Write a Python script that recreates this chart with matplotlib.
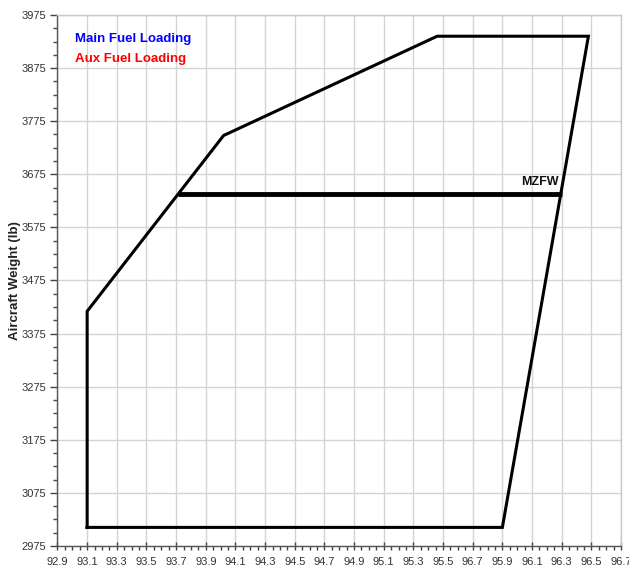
import matplotlib
matplotlib.use("Agg")
import matplotlib.pyplot as plt
from matplotlib.ticker import MultipleLocator, FixedLocator
import numpy as np
from matplotlib import font_manager

# ---- data ----
envelope_arm = [93.1, 93.1, 94.02, 95.46, 96.48, 95.9, 93.1]
envelope_weight = [3010, 3417, 3748, 3935, 3935, 3010, 3010]
mzfw_arm = [93.71, 96.3]
mzfw_weight = [3638, 3638]
x_ticks = [92.9, 93.1, 93.3, 93.5, 93.7, 93.9, 94.1, 94.3, 94.5, 94.7, 94.9,
           95.1, 95.3, 95.5, 95.7, 95.9, 96.1, 96.3, 96.5, 96.7]
x_tick_labels = ["92.9", "93.1", "93.3", "93.5", "93.7", "93.9", "94.1", "94.3",
                 "94.5", "94.7", "94.9", "95.1", "95.3", "95.5", "96.7", "95.9",
                 "96.1", "96.3", "96.5", "96.7"]
y_ticks = [2975, 3075, 3175, 3275, 3375, 3475, 3575, 3675, 3775, 3875, 3975]

names = {f.name for f in font_manager.fontManager.ttflist}
narrow = "Liberation Sans Narrow" if "Liberation Sans Narrow" in names else "Liberation Sans"

fig = plt.figure(figsize=(6.29, 5.74), dpi=100)
ax = fig.add_axes([0.0914, 0.0488, 0.8959, 0.9251])

ax.set_xlim(92.9, 96.7)
ax.set_ylim(2975, 3975)

ax.xaxis.set_major_locator(FixedLocator(x_ticks))
ax.set_xticklabels(x_tick_labels, fontfamily=narrow, fontsize=8, color="#333333")
ax.xaxis.set_minor_locator(MultipleLocator(0.05))
ax.yaxis.set_major_locator(FixedLocator(y_ticks))
ax.set_yticklabels([str(v) for v in y_ticks], fontfamily=narrow, fontsize=8, color="#333333")
ax.yaxis.set_minor_locator(MultipleLocator(25))

ax.grid(True, which="major", color="#d4d4d4", linewidth=1.0)
ax.set_axisbelow(True)

ax.tick_params(axis="x", which="major", direction="inout", length=6, width=1, color="#444444", pad=5)
ax.tick_params(axis="x", which="minor", direction="out", length=3, width=1, color="#444444")
ax.tick_params(axis="y", which="major", direction="out", length=5, width=1, color="#444444", pad=3)
ax.tick_params(axis="y", which="minor", direction="out", length=3, width=1, color="#444444")

for s in ["top", "right"]:
    ax.spines[s].set_color("#c8c8c8")
    ax.spines[s].set_linewidth(1.0)
for s in ["left", "bottom"]:
    ax.spines[s].set_color("#555555")
    ax.spines[s].set_linewidth(1.0)

ax.plot(envelope_arm, envelope_weight, color="black", linewidth=2.2, solid_joinstyle="miter")
ax.plot(mzfw_arm, mzfw_weight, color="black", linewidth=3.5, solid_capstyle="butt")

ax.text(mzfw_arm[1] - 0.02, mzfw_weight[0] + 12, "MZFW", ha="right", va="bottom",
        fontfamily=narrow, fontweight="bold", fontsize=9, color="#111111")

ax.text(0.031, 0.955, "Main Fuel Loading", transform=ax.transAxes, color="#0000ff",
        fontfamily="Liberation Sans", fontweight="bold", fontsize=9.5, va="center", ha="left")
ax.text(0.031, 0.918, "Aux Fuel Loading", transform=ax.transAxes, color="#ff0000",
        fontfamily="Liberation Sans", fontweight="bold", fontsize=9.5, va="center", ha="left")

fig.text(0.024, 0.512, "Aircraft Weight (lb)", rotation=90, ha="center", va="center",
         fontfamily="Liberation Sans", fontweight="bold", fontsize=9.5, color="#222222")

fig.savefig("out.png", dpi=100)
